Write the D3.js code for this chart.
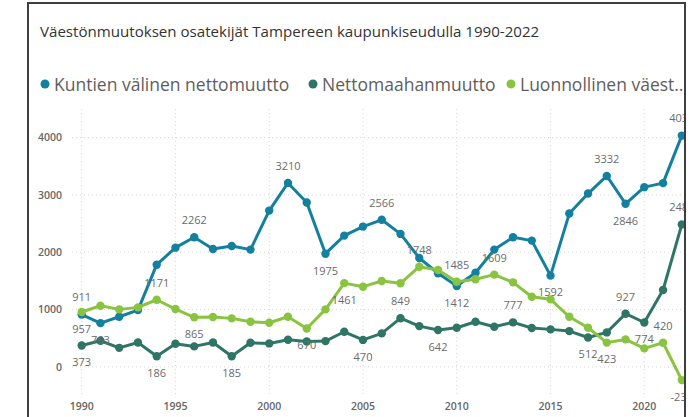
<!DOCTYPE html>
<html lang="fi">
<head>
<meta charset="UTF-8">
<title>Väestönmuutoksen osatekijät</title>
<script src="https://d3js.org/d3.v7.min.js"></script>
<style>
  body { margin: 0; background: #fff; font-family: "Open Sans", sans-serif; }
  .grid line { stroke: #d6d6d6; stroke-width: 1; stroke-dasharray: 1,3; }
  .tick-label { fill: #666; font-size: 10.5px; font-weight: 600; }
  .data-label { fill: #6b6b6b; font-size: 11px; }
</style>
</head>
<body>
<svg id="chart" width="697" height="417"></svg>
<script>
const years = d3.range(1990, 2023);

// Kuntien välinen nettomuutto
const kunnat = [911, 763, 874, 991, 1783, 2080, 2262, 2058, 2110, 2046,
  2727, 3210, 2867, 1975, 2290, 2448, 2566, 2320, 1900, 1633,
  1412, 1643, 2046, 2262, 2203, 1592, 2675, 3024, 3332, 2846,
  3136, 3206, 4036];

// Nettomaahanmuutto
const maahan = [373, 455, 332, 426, 186, 402, 357, 426, 185, 420,
  409, 472, 444, 449, 612, 470, 584, 849, 711, 642,
  682, 787, 699, 777, 677, 654, 624, 512, 601, 927,
  774, 1341, 2485];

// Luonnollinen väestönlisäys
const luonn = [957, 1067, 1003, 1038, 1171, 1009, 865, 869, 846, 787,
  770, 874, 670, 1003, 1461, 1399, 1498, 1458, 1748, 1690,
  1485, 1528, 1609, 1475, 1224, 1178, 874, 682, 423, 479,
  322, 420, -231];

const yTicks = [0, 1000, 2000, 3000, 4000];
const xTicks = [1990, 1995, 2000, 2005, 2010, 2015, 2020];

// data labels: year -> "a" above / "b" below
const kunnatLabels = {1990: "a", 1991: "b", 1996: "a", 2001: "a", 2003: "b", 2006: "a", 2010: "b", 2015: "b", 2018: "a", 2019: "b", 2022: "a"};
const maahanLabels = {1990: "b", 1994: "b", 1998: "b", 2005: "b", 2007: "a", 2009: "b", 2013: "a", 2017: "b", 2019: "a", 2020: "b", 2022: "a"};
const luonnLabels = {1990: "b", 1994: "a", 1996: "b", 2002: "b", 2004: "b", 2008: "a", 2010: "a", 2012: "a", 2018: "b", 2021: "a", 2022: "b"};

const series = [
  {name: "Kuntien välinen nettomuutto", values: kunnat, labels: kunnatLabels, color: "#13809f"},
  {name: "Nettomaahanmuutto", values: maahan, labels: maahanLabels, color: "#2e7565"},
  {name: "Luonnollinen väest…", values: luonn, labels: luonnLabels, color: "#89c441"}
];

const svg = d3.select("#chart");

const x = d3.scaleLinear().domain([1990, 2022]).range([81.7, 681.8]);
const y = d3.scaleLinear().domain([-500, 4500]).range([395.5, 109]);

svg.append("clipPath").attr("id", "frame-clip")
  .append("rect").attr("x", 29).attr("y", 4).attr("width", 655).attr("height", 413);

const g = svg.append("g").attr("clip-path", "url(#frame-clip)");

// title
g.append("text")
  .attr("x", 40).attr("y", 37)
  .attr("fill", "#333")
  .style("font-size", "15.1px")
  .text("Väestönmuutoksen osatekijät Tampereen kaupunkiseudulla 1990-2022");

// legend
const legendX = [45, 313, 511];
series.forEach((s, i) => {
  g.append("circle").attr("cx", legendX[i]).attr("cy", 84).attr("r", 4.5).attr("fill", s.color);
  g.append("text")
    .attr("x", legendX[i] + 9).attr("y", 90.5)
    .attr("fill", "#605e5c")
    .style("font-size", "17.5px")
    .text(s.name);
});

// grid
const grid = g.append("g").attr("class", "grid");
grid.selectAll(".h").data(yTicks).enter().append("line")
  .attr("x1", 72).attr("x2", 684)
  .attr("y1", d => y(d)).attr("y2", d => y(d));
grid.selectAll(".v").data(xTicks).enter().append("line")
  .attr("x1", d => x(d)).attr("x2", d => x(d))
  .attr("y1", y(4500)).attr("y2", y(-500));

// axis labels
g.selectAll(".ylab").data(yTicks).enter().append("text")
  .attr("class", "tick-label")
  .attr("x", 62).attr("y", d => y(d))
  .attr("dy", "0.35em")
  .attr("text-anchor", "end")
  .text(d => d);
g.selectAll(".xlab").data(xTicks).enter().append("text")
  .attr("class", "tick-label")
  .attr("x", d => x(d)).attr("y", 406)
  .attr("dy", "0.35em")
  .attr("text-anchor", "middle")
  .text(d => d);

// lines and markers
const line = d3.line().x((d, i) => x(years[i])).y(d => y(d));
series.forEach(s => {
  g.append("path")
    .datum(s.values)
    .attr("fill", "none")
    .attr("stroke", s.color)
    .attr("stroke-width", 3)
    .attr("stroke-linejoin", "round")
    .attr("d", line);
  g.selectAll(null).data(s.values).enter().append("circle")
    .attr("cx", (d, i) => x(years[i]))
    .attr("cy", d => y(d))
    .attr("r", 4.2)
    .attr("fill", s.color);
});

// data labels
series.forEach(s => {
  const pts = years.map((yr, i) => ({yr, v: s.values[i], pos: s.labels[yr]})).filter(d => d.pos);
  g.selectAll(null).data(pts).enter().append("text")
    .attr("class", "data-label")
    .attr("x", d => x(d.yr))
    .attr("y", d => y(d.v) + (d.pos === "a" ? -17 : 17))
    .attr("dy", "0.35em")
    .attr("text-anchor", "middle")
    .text(d => d.v);
});

// frame
svg.append("path")
  .attr("d", "M28,417 V3 H685 V417")
  .attr("fill", "none")
  .attr("stroke", "#3f3f3f")
  .attr("stroke-width", 2);
</script>
</body>
</html>
